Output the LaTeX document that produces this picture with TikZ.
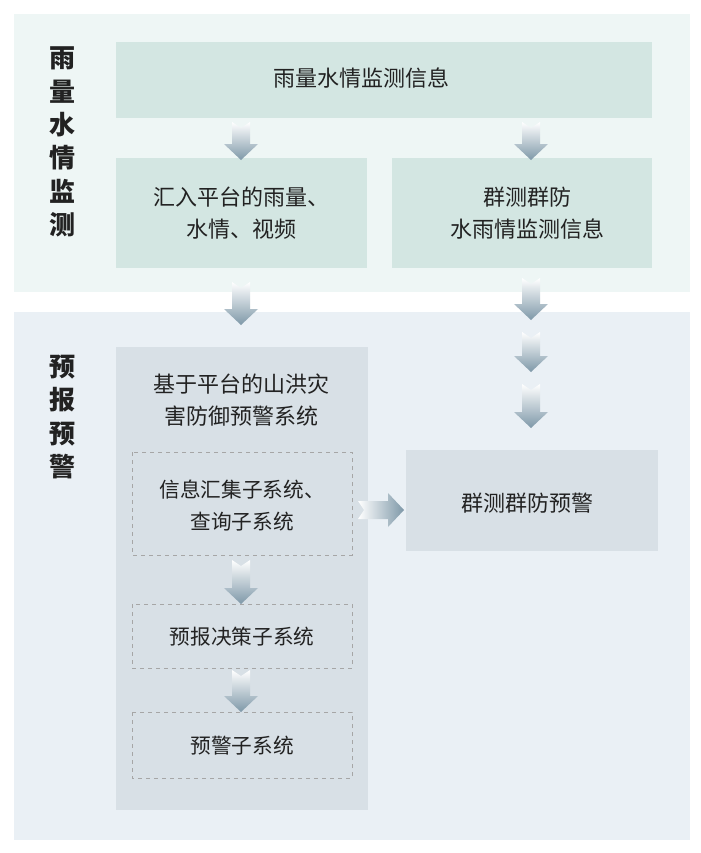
\documentclass[tikz,border=0pt]{standalone}
\usepackage{fontspec}
\newfontfamily\cjk{Noto Sans CJK SC}
\definecolor{topbg}{HTML}{EEF6F5}
\definecolor{botbg}{HTML}{EAF0F5}
\definecolor{green}{HTML}{D3E6E2}
\definecolor{grayb}{HTML}{D8E0E6}
\definecolor{arr}{HTML}{7E98A8}
\definecolor{txt}{HTML}{222222}
\begin{document}
\begin{tikzpicture}[x=0.75pt,y=-0.75pt,font=\cjk\fontsize{16.5}{24}\selectfont,text=txt,
  dbox/.style={draw=gray!70,dashed,fill=none,inner sep=0},
  lab/.style={font=\cjk\bfseries\fontsize{19.5}{25}\selectfont,align=center,text=txt},
  t/.style={align=center},
  st/.style={align=center,font=\cjk\fontsize{15.5}{24}\selectfont}]
\useasboundingbox (0,0) rectangle (700,853);
\fill[white] (0,0) rectangle (700,853);
\fill[topbg] (14,14) rectangle (690,292);
\fill[botbg] (14,312) rectangle (690,840);
\node[lab] (L1) at (62,142) {雨\\量\\水\\情\\监\\测};
\node[lab] (L2) at (62,417) {预\\报\\预\\警};
\fill[green] (116,42) rectangle (652,118);
\node[t] (a) at (361,78) {雨量水情监测信息};
\fill[green] (116,158) rectangle (367,268);
\node[t] (b) at (241,213) {汇入平台的雨量、\\水情、视频};
\fill[green] (392,158) rectangle (652,268);
\node[t] (c) at (527,213) {群测群防\\水雨情监测信息};
\fill[grayb] (116,347) rectangle (368,810);
\node[t] (s) at (241,400) {基于平台的山洪灾\\害防御预警系统};
\draw[dbox] (132,452) rectangle (352,555);
\node[st] (s1) at (242,506) {信息汇集子系统、\\查询子系统};
\draw[dbox] (132,604) rectangle (352,668);
\node[st] (s2) at (242,637) {预报决策子系统};
\draw[dbox] (132,712) rectangle (352,778);
\node[st] (s3) at (242,746) {预警子系统};
\fill[grayb] (406,450) rectangle (658,551);
\node[t] (w) at (527,503) {群测群防预警};
\newcommand{\darr}[3]{%
  \shade[top color=white,bottom color=arr,draw=none]
   (#1-9,#2) -- (#1,#2+6) -- (#1+9,#2) -- (#1+9,#3-16) -- (#1+17,#3-16) -- (#1,#3) -- (#1-17,#3-16) -- (#1-9,#3-16) -- cycle;}
\darr{241}{122}{160}
\darr{531}{122}{160}
\darr{241}{282}{325}
\darr{531}{278}{320}
\darr{531}{332}{372}
\darr{531}{384}{428}
\darr{241}{560}{604}
\darr{241}{670}{712}
\shade[left color=white,right color=arr,draw=none]
 (358,501) -- (364,510) -- (358,519) -- (388,519) -- (388,527) -- (404,510) -- (388,493) -- (388,501) -- cycle;
\end{tikzpicture}
\end{document}
